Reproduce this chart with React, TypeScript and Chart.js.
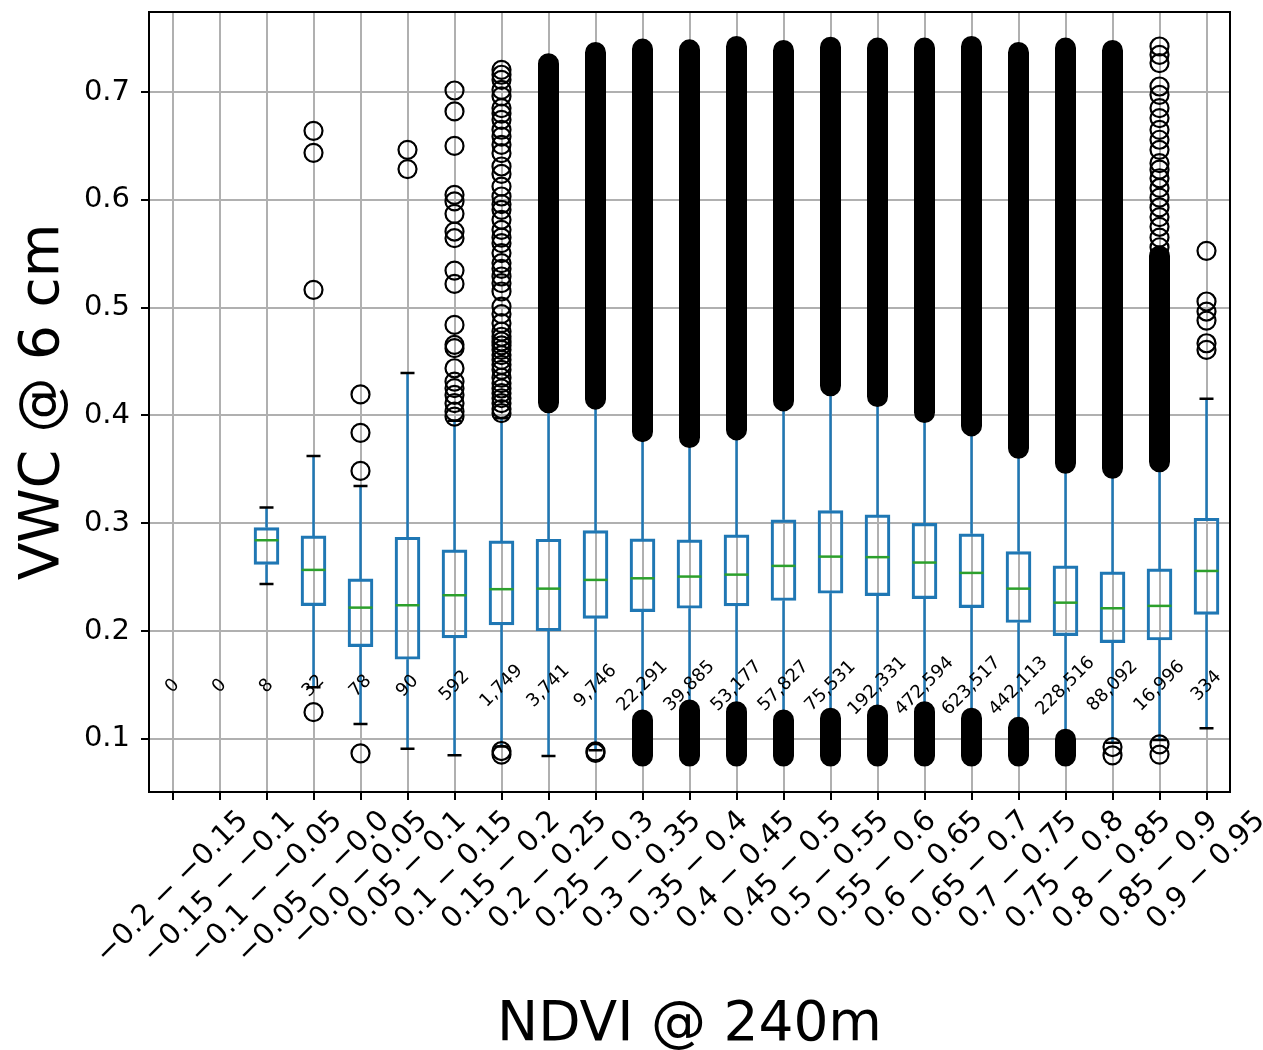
import React, { useEffect, useRef } from 'react';
import { Chart, registerables } from 'chart.js';

Chart.register(...registerables);

const categories = [
  '−0.2 − −0.15', '−0.15 − −0.1', '−0.1 − −0.05', '−0.05 − −0.0', '−0.0 − 0.05',
  '0.05 − 0.1', '0.1 − 0.15', '0.15 − 0.2', '0.2 − 0.25', '0.25 − 0.3',
  '0.3 − 0.35', '0.35 − 0.4', '0.4 − 0.45', '0.45 − 0.5', '0.5 − 0.55',
  '0.55 − 0.6', '0.6 − 0.65', '0.65 − 0.7', '0.7 − 0.75', '0.75 − 0.8',
  '0.8 − 0.85', '0.85 − 0.9', '0.9 − 0.95',
];

const counts = [
  '0', '0', '8', '32', '78', '90', '592', '1,749', '3,741', '9,746', '22,291', '39,885',
  '53,177', '57,827', '75,531', '192,331', '472,594', '623,517', '442,113', '228,516',
  '88,092', '16,996', '334',
];

const q1 = [null, null, 0.2619, 0.2237, 0.1856, 0.1739, 0.1937, 0.2058, 0.2002, 0.2119, 0.2181, 0.2212,
  0.2234, 0.2284, 0.2351, 0.2329, 0.2301, 0.2218, 0.2080, 0.1958, 0.1893, 0.1918, 0.2156];
const medians = [null, null, 0.2843, 0.2568, 0.2218, 0.2240, 0.2333, 0.2389, 0.2394, 0.2475, 0.2490, 0.2506,
  0.2524, 0.2605, 0.2691, 0.2686, 0.2636, 0.2540, 0.2394, 0.2264, 0.2212, 0.2234, 0.2558];
const q3 = [null, null, 0.2960, 0.2883, 0.2484, 0.2871, 0.2753, 0.2837, 0.2852, 0.2932, 0.2855, 0.2846,
  0.2892, 0.3032, 0.3118, 0.3078, 0.3000, 0.2902, 0.2738, 0.2605, 0.2549, 0.2577, 0.3047];
const whiskerLow = [null, null, 0.2438, 0.1480, 0.1139, 0.0910, 0.0849, 0.0930, 0.0842, 0.0895, 0.1216, 0.1309,
  0.1293, 0.1216, 0.1232, 0.1263, 0.1293, 0.1232, 0.1148, 0.1037, 0.0965, 0.0990, 0.1099];
const whiskerHigh = [null, null, 0.3146, 0.3625, 0.3347, 0.4395, 0.3950, 0.3975, 0.4077, 0.4111, 0.3810, 0.3755,
  0.3826, 0.4095, 0.4235, 0.4136, 0.3987, 0.3863, 0.3656, 0.3516, 0.3470, 0.3530, 0.4154];

// dense (overlapping) flier ranges above the whiskers
const denseHighFrom = [null, null, null, null, null, null, null, null, 0.4117, 0.4151, 0.3850, 0.3795,
  0.3866, 0.4135, 0.4275, 0.4176, 0.4027, 0.3903, 0.3696, 0.3556, 0.3510, 0.3570, null];
const denseHighTo = [null, null, null, null, null, null, null, null, 0.7262, 0.7366, 0.7398, 0.7391,
  0.7422, 0.7385, 0.7415, 0.7407, 0.7407, 0.7422, 0.7366, 0.7407, 0.7385, 0.5480, null];
// dense flier ranges below the whiskers
const denseLowFrom = [null, null, null, null, null, null, null, null, null, null, 0.0842, 0.0842,
  0.0842, 0.0842, 0.0842, 0.0842, 0.0842, 0.0842, 0.0842, 0.0842, null, null, null];
const denseLowTo = [null, null, null, null, null, null, null, null, null, null, 0.1176, 0.1269,
  0.1253, 0.1176, 0.1192, 0.1223, 0.1253, 0.1192, 0.1108, 0.0997, null, null, null];

// individually visible fliers
const fliers = [
  [], [], [],
  [0.6640, 0.6436, 0.5165, 0.1248],
  [0.4195, 0.3839, 0.3486, 0.0867],
  [0.6464, 0.6285],
  [0.7014, 0.6820, 0.6500, 0.6046, 0.5985, 0.5870, 0.5706, 0.5644, 0.5344, 0.5220, 0.4840, 0.4655,
    0.4624, 0.4438, 0.4314, 0.4253, 0.4191, 0.4114, 0.4036, 0.3990],
  [0.7206, 0.7160, 0.7113, 0.7020, 0.6960, 0.6851, 0.6800, 0.6742, 0.6650, 0.6587, 0.6510, 0.6433,
    0.6309, 0.6240, 0.6123, 0.6031, 0.5960, 0.5907, 0.5815, 0.5722, 0.5650, 0.5598, 0.5506, 0.5413,
    0.5360, 0.5289, 0.5227, 0.5150, 0.5010, 0.4940, 0.4856, 0.4778, 0.4730, 0.4686, 0.4650, 0.4609,
    0.4560, 0.4516, 0.4470, 0.4423, 0.4350, 0.4300, 0.4250, 0.4207, 0.4160, 0.4114, 0.4060, 0.4021,
    0.0888, 0.0855],
  [],
  [0.0885, 0.0870],
  [], [], [], [], [], [], [], [], [], [],
  [0.0925, 0.0848],
  [0.7422, 0.7345, 0.7268, 0.7051, 0.6974, 0.6851, 0.6758, 0.6649, 0.6557, 0.6464, 0.6340, 0.6280,
    0.6200, 0.6110, 0.6020, 0.5930, 0.5840, 0.5750, 0.5650, 0.5560, 0.0950, 0.0855],
  [0.5527, 0.5057, 0.4964, 0.4880, 0.4670, 0.4608],
];

const yTicks = [0.1, 0.2, 0.3, 0.4, 0.5, 0.6, 0.7];
const yMin = 0.0508;
const yMax = 0.7742;
const countLabelY = 0.149;

const FONT = '"DejaVu Sans", sans-serif';
const TICK_SIZE = 29;
const LINE_W = 2.5;

const extrasPlugin = {
  id: 'boxExtras',
  beforeDatasetsDraw(chart: any) {
    const { ctx, scales } = chart;
    const x = scales.x;
    const y = scales.y;
    ctx.save();
    ctx.lineWidth = LINE_W;
    categories.forEach((_, i) => {
      if (q1[i] == null) return;
      const px = x.getPixelForValue(i);
      const yq1 = y.getPixelForValue(q1[i]);
      const yq3 = y.getPixelForValue(q3[i]);
      const ylo = y.getPixelForValue(whiskerLow[i]);
      const yhi = y.getPixelForValue(whiskerHigh[i]);
      ctx.strokeStyle = '#1f77b4';
      ctx.beginPath();
      ctx.moveTo(px, yq3); ctx.lineTo(px, yhi);
      ctx.moveTo(px, yq1); ctx.lineTo(px, ylo);
      ctx.stroke();
      ctx.strokeStyle = '#000';
      ctx.beginPath();
      ctx.moveTo(px - 7, yhi); ctx.lineTo(px + 7, yhi);
      ctx.moveTo(px - 7, ylo); ctx.lineTo(px + 7, ylo);
      ctx.stroke();
    });
    ctx.restore();
  },
  afterDatasetsDraw(chart: any) {
    const { ctx, scales, chartArea } = chart;
    const x = scales.x;
    const y = scales.y;
    ctx.save();
    // medians
    ctx.strokeStyle = '#2ca02c';
    ctx.lineWidth = LINE_W;
    categories.forEach((_, i) => {
      if (medians[i] == null) return;
      const px = x.getPixelForValue(i);
      const pm = y.getPixelForValue(medians[i]);
      ctx.beginPath();
      ctx.moveTo(px - 12, pm); ctx.lineTo(px + 12, pm);
      ctx.stroke();
    });
    // count annotations
    ctx.fillStyle = '#000';
    ctx.font = `18px ${FONT}`;
    ctx.textAlign = 'center';
    ctx.textBaseline = 'middle';
    const cy = y.getPixelForValue(countLabelY);
    counts.forEach((t, i) => {
      const px = x.getPixelForValue(i);
      ctx.save();
      ctx.translate(px, cy);
      ctx.rotate(-Math.PI / 4);
      ctx.fillText(t, 0, 0);
      ctx.restore();
    });
    // frame
    ctx.strokeStyle = '#000';
    ctx.lineWidth = 2;
    ctx.strokeRect(chartArea.left, chartArea.top, chartArea.right - chartArea.left, chartArea.bottom - chartArea.top);
    ctx.restore();
  },
  afterDraw(chart: any) {
    const { ctx, scales, chartArea } = chart;
    const x = scales.x;
    ctx.save();
    ctx.fillStyle = '#000';
    // rotated category labels, centred under their ticks
    ctx.font = `${TICK_SIZE}px ${FONT}`;
    ctx.textAlign = 'center';
    ctx.textBaseline = 'middle';
    const top = chartArea.bottom + 14;
    categories.forEach((t, i) => {
      const px = x.getPixelForValue(i);
      const w = ctx.measureText(t).width;
      const box = (w + TICK_SIZE) / Math.SQRT2;
      ctx.save();
      ctx.translate(px, top + box / 2);
      ctx.rotate(-Math.PI / 4);
      ctx.fillText(t, 0, 0);
      ctx.restore();
    });
    // axis titles
    ctx.font = `55px ${FONT}`;
    ctx.textBaseline = 'alphabetic';
    ctx.textAlign = 'center';
    ctx.fillText('NDVI @ 240m', (chartArea.left + chartArea.right) / 2, 1040);
    ctx.save();
    ctx.translate(58, (chartArea.top + chartArea.bottom) / 2);
    ctx.rotate(-Math.PI / 2);
    ctx.fillText('VWC @ 6 cm', 0, 0);
    ctx.restore();
    ctx.restore();
  },
};

export default function App() {
  const ref = useRef<HTMLCanvasElement | null>(null);

  useEffect(() => {
    if (!ref.current) return;

    const boxData = categories.map((_, i) => (q1[i] == null ? null : [q1[i], q3[i]]));

    const denseData: any[] = [];
    categories.forEach((c, i) => {
      if (denseHighFrom[i] != null) {
        denseData.push({ x: c, y: denseHighFrom[i] }, { x: c, y: denseHighTo[i] }, { x: c, y: null });
      }
      if (denseLowFrom[i] != null) {
        denseData.push({ x: c, y: denseLowFrom[i] }, { x: c, y: denseLowTo[i] }, { x: c, y: null });
      }
    });

    const flierData: any[] = [];
    categories.forEach((c, i) => {
      fliers[i].forEach((v) => flierData.push({ x: c, y: v }));
    });

    const chart = new Chart(ref.current, {
      type: 'bar',
      data: {
        labels: categories,
        datasets: [
          {
            type: 'line',
            label: 'fliers',
            data: flierData,
            showLine: false,
            pointRadius: 9,
            pointBorderWidth: 2.2,
            pointBorderColor: '#000',
            pointBackgroundColor: 'rgba(0,0,0,0)',
            pointHoverRadius: 9,
          } as any,
          {
            type: 'line',
            label: 'dense fliers',
            data: denseData,
            borderColor: '#000',
            borderWidth: 21,
            borderCapStyle: 'round',
            pointRadius: 0,
            pointHoverRadius: 0,
            spanGaps: false,
            tension: 0,
            fill: false,
          } as any,
          {
            type: 'bar',
            label: 'boxes',
            data: boxData as any,
            backgroundColor: 'rgba(0,0,0,0)',
            borderColor: '#1f77b4',
            borderWidth: LINE_W,
            borderSkipped: false,
            barThickness: 25,
          } as any,
        ],
      },
      options: {
        responsive: false,
        animation: false,
        events: [],
        layout: { padding: { top: 12, right: 33, left: 0, bottom: 0 } },
        plugins: {
          legend: { display: false },
          tooltip: { enabled: false },
        },
        scales: {
          x: {
            type: 'category',
            offset: true,
            grid: {
              offset: false,
              color: '#b0b0b0',
              lineWidth: 2,
              tickColor: '#000',
              tickLength: 8,
              drawTicks: true,
            },
            border: { display: true, color: '#000', width: 2 },
            ticks: { display: false },
            afterFit: (scale: any) => {
              scale.height = 258;
              scale.paddingLeft = 0;
              scale.paddingRight = 0;
            },
          },
          y: {
            type: 'linear',
            min: yMin,
            max: yMax,
            grid: {
              color: '#b0b0b0',
              lineWidth: 2,
              tickColor: '#000',
              tickLength: 8,
              drawTicks: true,
            },
            border: { display: true, color: '#000', width: 2 },
            afterBuildTicks: (scale: any) => { scale.ticks = yTicks.map((v) => ({ value: v })); },
            afterFit: (scale: any) => {
              scale.width = 149;
              scale.paddingTop = 0;
              scale.paddingBottom = 0;
            },
            ticks: {
              color: '#000',
              padding: 11,
              font: { family: FONT, size: TICK_SIZE },
              callback: (v: any) => Number(v).toFixed(1),
            },
          },
        },
      },
      plugins: [extrasPlugin],
    });

    return () => chart.destroy();
  }, []);

  return (
    <div style={{ position: 'absolute', left: 0, top: 0, width: 1263, height: 1050, background: '#fff' }}>
      <canvas ref={ref} width={1263} height={1050} style={{ display: 'block' }} />
    </div>
  );
}
